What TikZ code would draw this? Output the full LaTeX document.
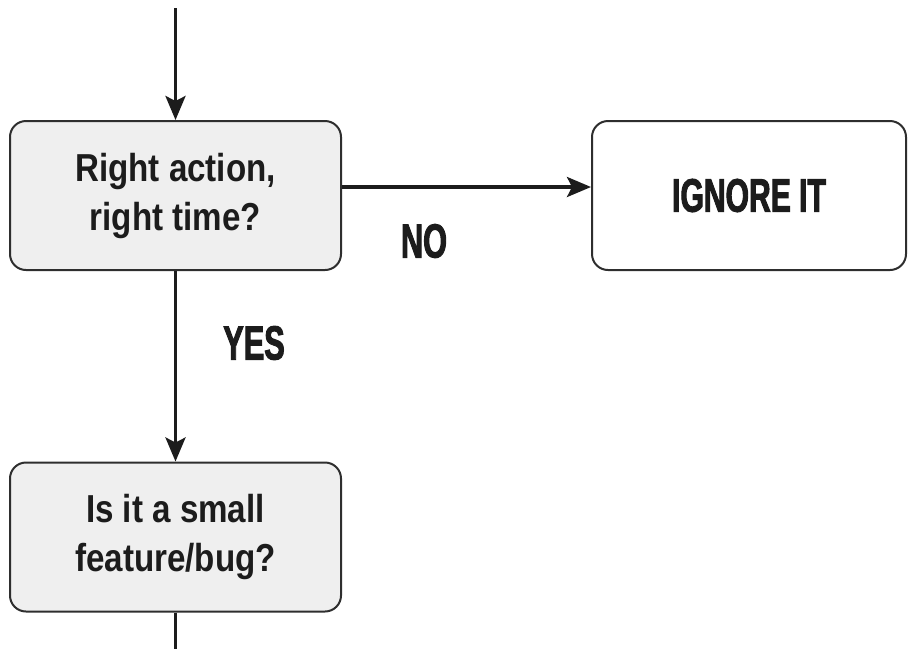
\documentclass[tikz,border=0pt]{standalone}
\usepackage{fontspec}
\setmainfont{Liberation Sans}
\newfontfamily\boxfont[FakeStretch=0.85]{Liberation Sans}
\newfontfamily\labelfont[FakeStretch=0.64,FakeBold=2]{Liberation Sans}
\usetikzlibrary{arrows.meta}
\definecolor{boxgray}{HTML}{EFEFEF}
\definecolor{edge}{HTML}{2E2E2E}
\definecolor{ink}{HTML}{1C1C1C}
\tikzset{
  flowbox/.style={draw=edge, line width=2pt, rounded corners=16pt, align=center,
    text=ink, font=\boxfont\bfseries\fontsize{39}{49}\selectfont, inner sep=0pt},
  qbox/.style={flowbox, fill=boxgray, minimum width=331pt, minimum height=149pt},
  abox/.style={flowbox, fill=white, minimum width=314pt, minimum height=149pt,
    font=\labelfont\bfseries\fontsize{47}{50}\selectfont},
  conn/.style={draw=ink, line width=3.4pt, -{Stealth[length=24pt,width=20pt,inset=5pt]}},
  plain/.style={draw=ink, line width=3.4pt},
  lbl/.style={text=ink, font=\labelfont\bfseries\fontsize{48}{50}\selectfont, inner sep=0pt}
}
\begin{document}
\begin{tikzpicture}[x=1pt,y=-1pt]
\useasboundingbox (0,0) rectangle (909,649);
\node[qbox] (q1) at (175.5,195.5) {Right action,\\right time?};
\node[abox] (ign) at (749,195.5) {IGNORE IT};
\node[qbox] (q2) at (175.5,537) {Is it a small\\feature/bug?};
\coordinate (top) at (175.5,8);
\coordinate (bot) at (175.5,649);
\draw[conn] (top) -- (q1.north);
\draw[conn] ([yshift=8.5pt]q1.east) -- ([yshift=8.5pt]ign.west);
\draw[conn] (q1.south) -- (q2.north);
\draw[plain] (q2.south) -- (bot);
\node[lbl] (no) at (424,241) {NO};
\node[lbl] (yes) at (254,343) {YES};
\end{tikzpicture}
\end{document}
